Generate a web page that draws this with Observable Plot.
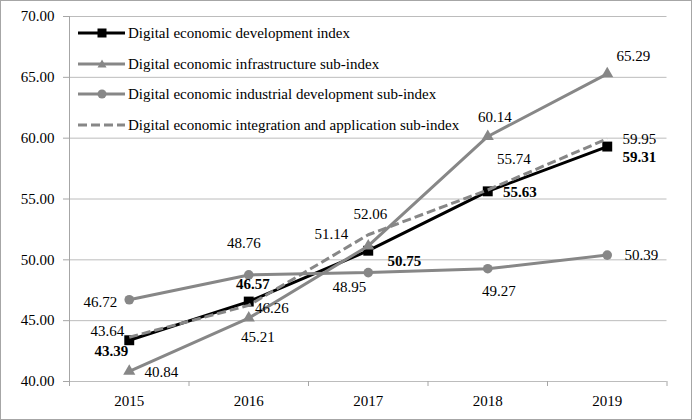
<!DOCTYPE html>
<html>
<head>
<meta charset="utf-8">
<script src="https://cdn.jsdelivr.net/npm/d3@7"></script>
<script src="https://cdn.jsdelivr.net/npm/@observablehq/plot@0.6"></script>
<style>
  html, body { margin: 0; padding: 0; background: #fff; }
  #wrap { position: relative; width: 692px; height: 420px; font-family: "Liberation Serif", "Times New Roman", serif; color: #000; }
  #wrap > svg { position: absolute; left: 0; top: 0; }
  #frame { position: absolute; left: 0; top: 0; width: 690px; height: 418px; border: 1px solid #a6a6a6; pointer-events: none; }
  #legend { position: absolute; left: 78px; top: 0; }
  .lrow { position: absolute; left: 0; height: 18px; line-height: 18px; white-space: nowrap; font-size: 15px; }
  .lrow svg { position: absolute; left: 0; top: 3px; }
  .lrow span { position: absolute; left: 50px; top: 0; }
</style>
</head>
<body>
<div id="wrap"><div id="legend"></div><div id="frame"></div></div>
<script>
// ---- data ----
const years = [2015, 2016, 2017, 2018, 2019];
const seriesNames = [
  "Digital economic development index",
  "Digital economic infrastructure sub-index",
  "Digital economic industrial development sub-index",
  "Digital economic integration and application sub-index"
];
const developmentIndex = [43.39, 46.57, 50.75, 55.63, 59.31];
const infrastructureSub = [40.84, 45.21, 51.14, 60.14, 65.29];
const industrialSub = [46.72, 48.76, 48.95, 49.27, 50.39];
const integrationSub = [43.64, 46.26, 52.06, 55.74, 59.95];
const yTicks = [40, 45, 50, 55, 60, 65, 70];

// label offsets (px) relative to each point, per series
const labelOffsets = [
  [[-18, 11], [4, -17], [36, 10], [32, 1], [32, 11]],
  [[32, 1], [9, 19], [-37, -12], [7, -19], [26, -18]],
  [[-29, 2], [-5, -32], [-19, 15], [11, 22], [34, 0]],
  [[-22, -6], [23, 3], [2, -21], [26, -31], [32, 0]]
];

// ---- styles ----
const GRAY = "#878787";
const styles = [
  {stroke: "#000", symbol: "square", r: 5.6, dash: null, bold: true},
  {stroke: GRAY, symbol: "triangle", r: 4.5, dash: null, bold: false},
  {stroke: GRAY, symbol: "circle", r: 4.8, dash: null, bold: false},
  {stroke: GRAY, symbol: null, r: 0, dash: "9,4", bold: false}
];

const allValues = [developmentIndex, infrastructureSub, industrialSub, integrationSub];
const rows = (vals) => years.map((y, i) => ({year: y, value: vals[i]}));

const xDomain = [years[0] - 0.5, years[years.length - 1] + 0.5];
const bounds = years.map(y => y - 0.5).concat([years[years.length - 1] + 0.5]);

const marks = [
  Plot.gridY(yTicks, {stroke: "#bcbcbc", strokeOpacity: 1, strokeWidth: 1}),
  Plot.ruleX([xDomain[0]], {stroke: "#a6a6a6", strokeWidth: 1}),
  Plot.axisY({ticks: yTicks, tickFormat: d => d.toFixed(2), tickSize: 6, tickPadding: 9, stroke: "#a6a6a6", fill: "#000", fontSize: 15, label: null}),
  Plot.axisX({ticks: bounds, tickSize: 5, tickFormat: () => "", stroke: "#a6a6a6", label: null}),
  Plot.axisX({ticks: years, tickSize: 0, tickPadding: 14, tickFormat: d => String(d), fill: "#000", fontSize: 15, label: null})
];

allValues.forEach((vals, s) => {
  const st = styles[s];
  const data = rows(vals);
  marks.push(Plot.line(data, {x: "year", y: "value", stroke: st.stroke, strokeWidth: 3, strokeDasharray: st.dash || undefined, strokeLinejoin: "miter", strokeLinecap: "butt"}));
  if (st.symbol) {
    marks.push(Plot.dot(data, {x: "year", y: "value", symbol: st.symbol, r: st.r, fill: st.stroke, stroke: "none"}));
  }
});

allValues.forEach((vals, s) => {
  const st = styles[s];
  rows(vals).forEach((d, i) => {
    const [dx, dy] = labelOffsets[s][i];
    marks.push(Plot.text([d], {x: "year", y: "value", text: v => v.value.toFixed(2), dx, dy,
      fill: "#000", fontSize: 15, fontWeight: st.bold ? "bold" : "normal", textAnchor: "middle", lineAnchor: "middle"}));
  });
});

const chart = Plot.plot({
  width: 692,
  height: 420,
  marginLeft: 69,
  marginRight: 25.5,
  marginTop: 16,
  marginBottom: 39,
  x: {type: "linear", domain: xDomain},
  y: {domain: [yTicks[0], yTicks[yTicks.length - 1]]},
  style: {fontFamily: "'Liberation Serif', 'Times New Roman', serif", fontSize: "15px", background: "transparent", color: "#000", overflow: "visible"},
  marks
});

const wrap = document.getElementById("wrap");
wrap.insertBefore(chart, wrap.firstChild);

// ---- legend ----
const legend = document.getElementById("legend");
const rowCenters = [33, 63.5, 94, 124.5];
seriesNames.forEach((name, s) => {
  const st = styles[s];
  const row = document.createElement("div");
  row.className = "lrow";
  row.style.top = (rowCenters[s] - 9) + "px";
  let marker = "";
  if (st.symbol === "square") marker = `<rect x="19.5" y="1.5" width="9" height="9" fill="${st.stroke}"/>`;
  if (st.symbol === "triangle") marker = `<path d="M24 1.5 L28.5 9.5 L19.5 9.5 Z" fill="${st.stroke}"/>`;
  if (st.symbol === "circle") marker = `<circle cx="24" cy="6" r="4.5" fill="${st.stroke}"/>`;
  row.innerHTML = `<svg width="48" height="12"><line x1="0" x2="47" y1="6" y2="6" stroke="${st.stroke}" stroke-width="3" ${st.dash ? `stroke-dasharray="${st.dash}"` : ""}/>${marker}</svg><span>${name}</span>`;
  legend.appendChild(row);
});
</script>
</body>
</html>
